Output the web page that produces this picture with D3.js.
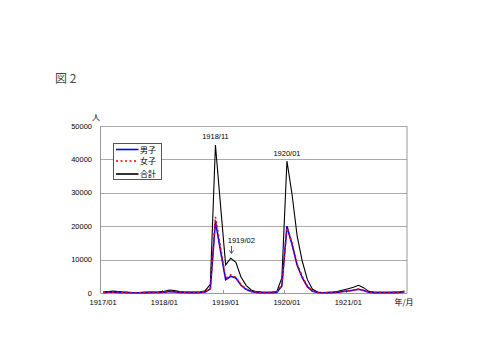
<!DOCTYPE html>
<html>
<head>
<meta charset="utf-8">
<script src="https://cdn.jsdelivr.net/npm/d3@7"></script>
<style>
  body { margin: 0; background: #fff; }
  text { font-family: "Liberation Sans", Arial, sans-serif; }
  .jp { font-family: "Noto Sans CJK JP", sans-serif; }
</style>
</head>
<body>
<div id="chart"></div>
<script>
var months = [
  "1917/01","1917/02","1917/03","1917/04","1917/05","1917/06","1917/07","1917/08","1917/09","1917/10","1917/11","1917/12",
  "1918/01","1918/02","1918/03","1918/04","1918/05","1918/06","1918/07","1918/08","1918/09","1918/10","1918/11","1918/12",
  "1919/01","1919/02","1919/03","1919/04","1919/05","1919/06","1919/07","1919/08","1919/09","1919/10","1919/11","1919/12",
  "1920/01","1920/02","1920/03","1920/04","1920/05","1920/06","1920/07","1920/08","1920/09","1920/10","1920/11","1920/12",
  "1921/01","1921/02","1921/03","1921/04","1921/05","1921/06","1921/07","1921/08","1921/09","1921/10","1921/11","1921/12"
];

var male = [
  150, 220, 270, 200, 150, 100, 70, 70, 100, 120, 150, 170,
  240, 430, 340, 200, 150, 120, 120, 150, 340, 1250, 21500, 12600,
  4000, 5000, 4500, 2300, 1100, 430, 190, 120, 100, 120, 190, 2100,
  20000, 14500, 8300, 4600, 1900, 520, 140, 70, 100, 140, 240, 430,
  620, 800, 1100, 770, 240, 120, 100, 100, 100, 120, 140, 290
];

var female = [
  150, 230, 280, 200, 150, 100, 80, 80, 100, 130, 150, 180,
  260, 470, 360, 200, 150, 130, 130, 150, 360, 1350, 22800, 13600,
  4400, 5400, 4700, 2500, 1200, 470, 210, 130, 100, 130, 210, 2400,
  19500, 15000, 8700, 4900, 2100, 580, 160, 80, 100, 160, 260, 470,
  680, 900, 1200, 830, 260, 130, 100, 100, 100, 130, 160, 310
];

var total = [
  300, 450, 550, 400, 300, 200, 150, 150, 200, 250, 300, 350,
  500, 900, 700, 400, 300, 250, 250, 300, 700, 2600, 44300, 26200,
  8400, 10400, 9200, 4800, 2300, 900, 400, 250, 200, 250, 400, 4500,
  39500, 29500, 17000, 9500, 4000, 1100, 300, 150, 200, 300, 500, 900,
  1300, 1700, 2300, 1600, 500, 250, 200, 200, 200, 250, 300, 600
];

var xTickLabels = ["1917/01", "1918/01", "1919/01", "1920/01", "1921/01"];
var yTicks = [0, 10000, 20000, 30000, 40000, 50000];

var seriesNames = ["男子", "女子", "合計"];
var notes = [
  {month: "1918/11", text: "1918/11"},
  {month: "1920/01", text: "1920/01"},
  {month: "1919/02", text: "1919/02"}
];

var width = 480, height = 360;
var plotLeft = 100.5, plotRight = 407, plotTop = 126, plotBottom = 293;

var svg = d3.select("#chart").append("svg")
    .attr("width", width)
    .attr("height", height);

var x = d3.scaleBand().domain(months).range([plotLeft, plotRight]);
var y = d3.scaleLinear().domain([0, 50000]).range([plotBottom, plotTop]);
var cx = function(m) { return x(m) + x.bandwidth() / 2; };

// title
svg.append("text").attr("class", "jp")
    .attr("x", 55).attr("y", 83)
    .style("font-size", "12px").style("fill", "#444")
    .text("図 2");

// gridlines
svg.append("g").selectAll("line")
    .data(yTicks.slice(1))
    .enter().append("line")
    .attr("x1", plotLeft).attr("x2", plotRight)
    .attr("y1", d => Math.round(y(d)) + 0.5)
    .attr("y2", d => Math.round(y(d)) + 0.5)
    .style("stroke", "#aaa").style("stroke-width", 1);

// frame
svg.append("line").attr("x1", plotLeft).attr("x2", plotLeft).attr("y1", plotTop).attr("y2", plotBottom + 0.5)
    .style("stroke", "#999");
svg.append("line").attr("x1", plotRight).attr("x2", plotRight).attr("y1", plotTop).attr("y2", plotBottom + 0.5)
    .style("stroke", "#999");
svg.append("line").attr("x1", plotLeft).attr("x2", plotRight).attr("y1", plotBottom + 0.5).attr("y2", plotBottom + 0.5)
    .style("stroke", "#999");

// y labels
svg.append("g").selectAll("text")
    .data(yTicks)
    .enter().append("text")
    .attr("x", 92)
    .attr("y", d => y(d) + 2.5)
    .attr("text-anchor", "end")
    .style("font-size", "7.5px").style("fill", "#000")
    .text(d => d);

svg.append("text").attr("class", "jp")
    .attr("x", 96).attr("y", 120)
    .attr("text-anchor", "middle")
    .style("font-size", "8px").style("fill", "#000")
    .text("人");

// x ticks at year boundaries
svg.append("g").selectAll("line")
    .data(xTickLabels.slice(1))
    .enter().append("line")
    .attr("x1", d => Math.round(x(d)) + 0.5)
    .attr("x2", d => Math.round(x(d)) + 0.5)
    .attr("y1", plotBottom).attr("y2", plotBottom - 3)
    .style("stroke", "#999");

svg.append("g").selectAll("text")
    .data(xTickLabels)
    .enter().append("text")
    .attr("x", d => cx(d))
    .attr("y", 305)
    .attr("text-anchor", "middle")
    .style("font-size", "7.5px").style("fill", "#000")
    .text(d => d);

svg.append("text").attr("class", "jp")
    .attr("x", 404).attr("y", 305)
    .attr("text-anchor", "middle")
    .style("font-size", "8px").style("fill", "#000")
    .text("年/月");

// lines
var line = function(vals) {
    return d3.line()
        .x((d, i) => cx(months[i]))
        .y(d => y(d))(vals);
};

svg.append("path").attr("d", line(total))
    .style("fill", "none").style("stroke", "#000").style("stroke-width", 1.1);
svg.append("path").attr("d", line(male))
    .style("fill", "none").style("stroke", "#0000ff").style("stroke-width", 1.6);
svg.append("path").attr("d", line(female))
    .style("fill", "none").style("stroke", "#ff0000").style("stroke-width", 1.6)
    .style("stroke-dasharray", "2,2.5");

// annotations
var n0 = notes[0], n1 = notes[1], n2 = notes[2];
svg.append("text").attr("x", cx(n0.month)).attr("y", 139)
    .attr("text-anchor", "middle").style("font-size", "7.5px").style("fill", "#000")
    .text(n0.text);
svg.append("text").attr("x", cx(n1.month)).attr("y", 156)
    .attr("text-anchor", "middle").style("font-size", "7.5px").style("fill", "#000")
    .text(n1.text);
svg.append("text").attr("x", cx(n2.month) - 3).attr("y", 243)
    .attr("text-anchor", "start").style("font-size", "7.5px").style("fill", "#000")
    .text(n2.text);
var ax = Math.round(cx(n2.month)) + 0.5;
svg.append("line").attr("x1", ax).attr("x2", ax).attr("y1", 246).attr("y2", 253)
    .style("stroke", "#333").style("stroke-width", 0.8);
svg.append("path").attr("d", "M" + (ax - 2) + ",250.5L" + ax + ",253.5L" + (ax + 2) + ",250.5")
    .style("fill", "none").style("stroke", "#333").style("stroke-width", 0.8);

// legend
var lg = svg.append("g").attr("transform", "translate(113.5,143.5)");
lg.append("rect").attr("width", 48).attr("height", 36)
    .style("fill", "#fff").style("stroke", "#555").style("stroke-width", 1);
var legendStyles = [
    {color: "#0000ff", dash: null},
    {color: "#ff0000", dash: "2,2.5"},
    {color: "#000", dash: null}
];
var ly = [6, 17.5, 30.5];
seriesNames.forEach(function(name, i) {
    lg.append("line").attr("x1", 2.5).attr("x2", 25).attr("y1", ly[i]).attr("y2", ly[i])
        .style("stroke", legendStyles[i].color).style("stroke-width", 1.6)
        .style("stroke-dasharray", legendStyles[i].dash);
    lg.append("text").attr("class", "jp")
        .attr("x", 26.5).attr("y", ly[i] + 3)
        .style("font-size", "8px").style("fill", "#000")
        .text(name);
});
</script>
</body>
</html>
